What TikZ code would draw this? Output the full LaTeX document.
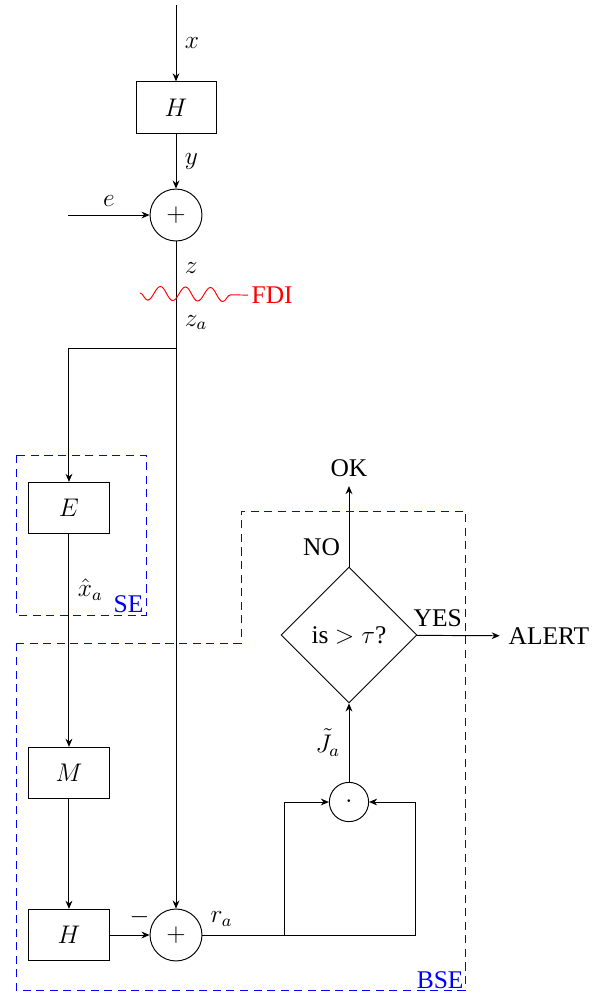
\documentclass[tikz,border=0pt,12pt]{standalone}
\usepackage[no-math]{fontspec}
\setmainfont{Liberation Serif}
\usetikzlibrary{positioning, shapes.geometric, arrows.meta, decorations.pathmorphing}
\tikzset{
    block/.style={rectangle, draw, minimum width=1.325cm, minimum height=0.85cm},
    sumnode/.style={circle, draw, minimum size=0.86cm, inner sep=0pt},
    prodnode/.style={circle, draw, minimum size=0.65cm, inner sep=0pt},
    decision/.style={diamond, draw, aspect=1, minimum size=2.25cm, inner sep=0pt},
    zone/.style={draw=blue, dash pattern=on 3.8pt off 2.6pt, line width=0.45pt},
    zonelabel/.style={text=blue, inner sep=1pt},
    attack/.style={red, decorate, decoration={snake, amplitude=0.115cm, segment length=0.414cm, post length=0.13cm, mirror}},
}

\begin{document}
\begin{tikzpicture}[>={Stealth[length=3.8pt, width=3.2pt]}, line width=0.45pt]
    \useasboundingbox (0,0) rectangle (10,-16.457);

    % measurement chain
    \coordinate (in) at (2.914,-0.083);
    \node[block] (H1) at (2.914,-1.780) {$H$};
    \node[sumnode] (S1) at (2.914,-3.560) {$+$};
    \coordinate (ein) at (1.126,-3.560);
    \coordinate (split) at (2.914,-5.762);

    % estimator side
    \node[block] (E) at (1.142,-8.411) {$E$};
    \node[block] (M) at (1.142,-12.798) {$M$};
    \node[block] (H2) at (1.142,-15.480) {$H$};
    \node[sumnode] (S2) at (2.914,-15.480) {$+$};

    % detector
    \node[prodnode] (P) at (5.778,-13.278) {$\cdot$};
    \node[decision] (D) at (5.778,-10.513) {is $>\tau$?};
    \node (ok) at (5.778,-7.757) {OK};
    \node (alert) at (9.089,-10.53) {ALERT};
    \coordinate (ra1) at (4.702,-15.480);
    \coordinate (ra2) at (6.871,-15.480);

    \draw[->] (in) -- node[right] (xlab) {$x$} (H1);
    \draw[->] (H1) -- node[right] (ylab) {$y$} (S1);
    \draw[->] (ein) -- node[above] (elab) {$e$} (S1);
    \draw[->] (S1) -- node[pos=.25, right] (zlab) {$z$} node[pos=.76, right] (zalab) {$z_a$} (split) -| (E);
    \draw[->] (split) -- (S2);

    % false data injection
    \coordinate (w0) at (2.318,-4.851);
    \node[red, anchor=west, inner sep=1.5pt, yshift=-1pt] (fdi) at (4.106,-4.851) {FDI};
    \draw[attack] (w0) -- (fdi.west);

    \draw[->] (E) -- node[pos=.26, right] (xhlab) {$\hat{x}_a$} (M);
    \draw[->] (M) -- (H2);
    \draw[->] (H2) -- node[pos=.75, above] (mlab) {$-$} (S2);
    \draw[->] (S2) -- node[pos=.09, above] (ralab) {$r_a$} (ra2) |- (P);
    \draw[->] (ra1) |- (P);
    \draw[->] (P) -- node[left] (jlab) {$\tilde{J}_a$} (D);
    \draw[->] (D) -- node[pos=.24, left] (nolab) {NO} (ok);
    \draw[->] (D) -- node[pos=.25, above] (yeslab) {YES} (alert);

    % regions
    \draw[zone] (0.265,-7.533) rectangle (2.417,-10.182);
    \node[zonelabel, anchor=south east] (se) at (2.417,-10.182) {SE};
    \draw[zone] (0.265,-10.646) -- (3.990,-10.646) -- (3.990,-8.460) -- (7.699,-8.460)
        -- (7.699,-16.391) -- (0.265,-16.391) -- cycle;
    \node[zonelabel, anchor=south east, inner sep=0.5pt] (bse) at (7.699,-16.391) {BSE};
\end{tikzpicture}
\end{document}
